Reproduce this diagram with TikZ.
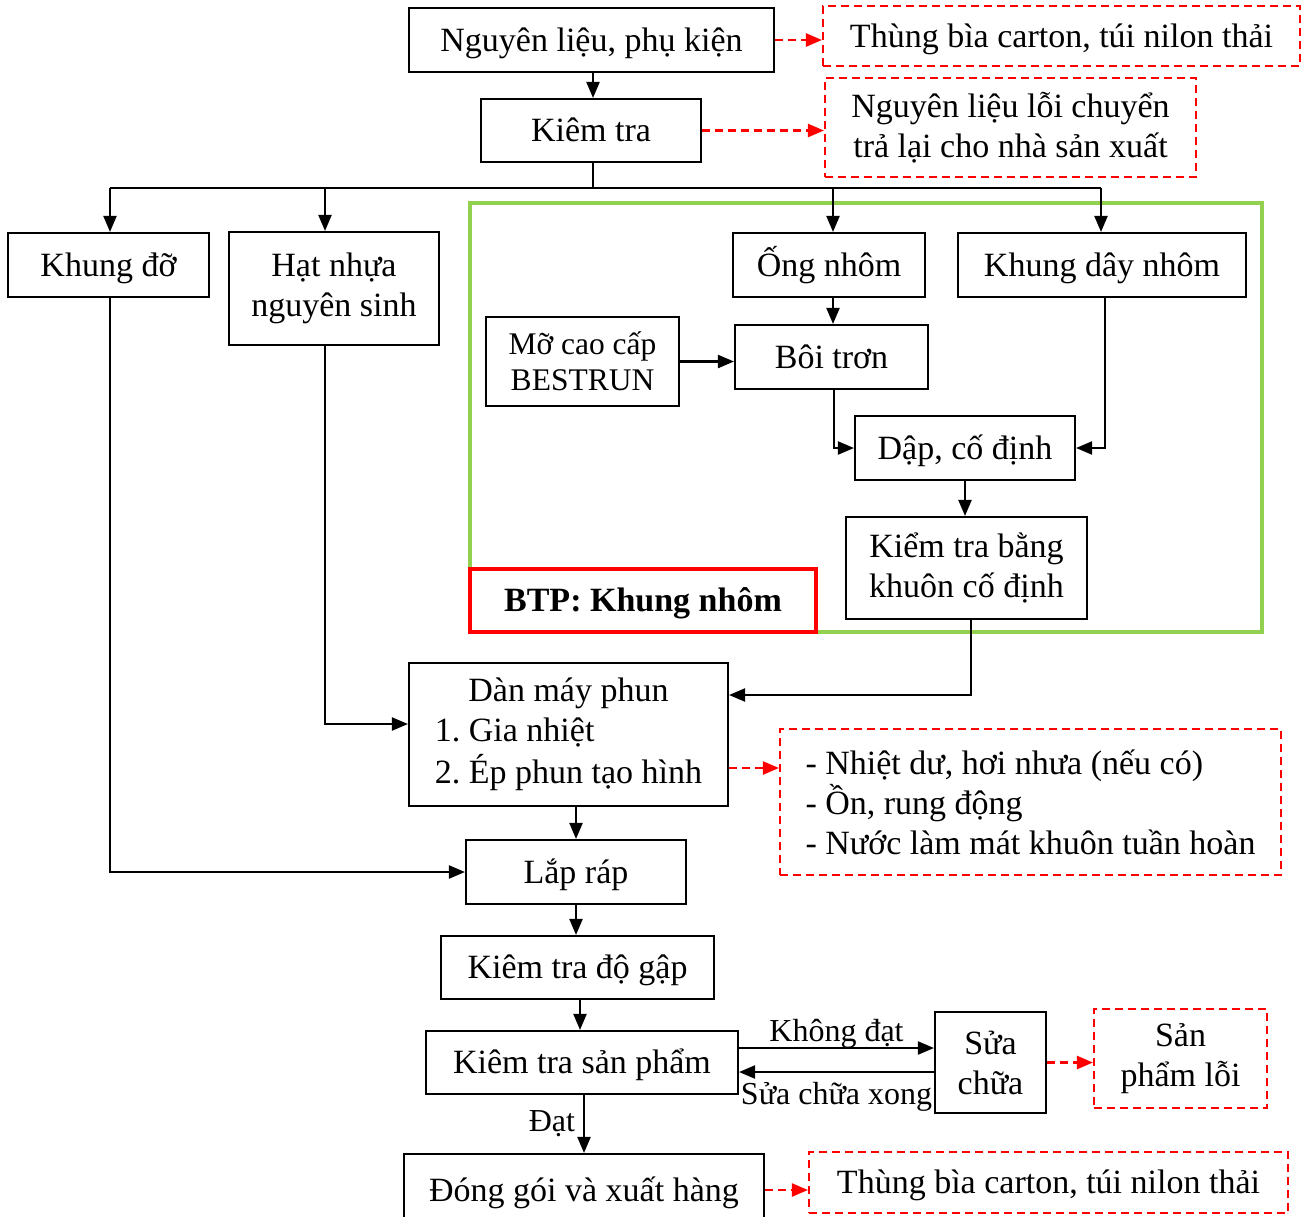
\documentclass[tikz,border=0pt]{standalone}
\usepackage{fontspec}
\setmainfont{Liberation Serif}
\usetikzlibrary{arrows.meta}
\definecolor{framegreen}{HTML}{92D050}
\frenchspacing
\begin{document}
\begin{tikzpicture}[x=1pt,y=-1pt,
  txt/.style={font=\fontsize{34}{40}\selectfont},
  box/.style={draw, line width=2.1pt, inner sep=0pt, align=center, txt},
  waste/.style={draw=red, line width=2.1pt, dash pattern=on 8pt off 5pt, inner sep=0pt, align=center, txt},
  one/.style={text height=30.4pt, text depth=8pt},
  arr/.style={line width=2.1pt, -{Triangle[length=16pt,width=13pt]}},
  warr/.style={red, line width=2.4pt, dash pattern=on 8pt off 5pt, -{Triangle[length=16pt,width=13pt]}},
  lab/.style={font=\fontsize{32}{36}\selectfont, inner sep=2pt}
]
\useasboundingbox (0,0) rectangle (1304,1216);

% frame of the aluminium sub-assembly
\draw[framegreen, line width=3.2pt] (470,203) rectangle (1262,632);

% process boxes
\node[box, one, minimum width=365, minimum height=64] (n1) at (591.5,40) {Nguyên liệu, phụ kiện};
\node[box, one, minimum width=220, minimum height=63] (kt) at (591,130.5) {Kiêm tra};
\node[box, one, minimum width=201, minimum height=64] (kd) at (108.5,265) {Khung đỡ};
\node[box, minimum width=210, minimum height=113] (hn) at (334,288.5) {Hạt nhựa\\nguyên sinh};
\node[box, one, minimum width=192, minimum height=64] (on) at (829,265) {Ống nhôm};
\node[box, one, minimum width=288, minimum height=64] (kdn) at (1102,265) {Khung dây nhôm};
\node[box, minimum width=193, minimum height=89, font=\fontsize{31.5}{36}\selectfont] (mo) at (582.5,361.5) {Mỡ cao cấp\\BESTRUN};
\node[box, one, minimum width=193, minimum height=64] (bt) at (831.5,357) {Bôi trơn};
\node[box, one, minimum width=220, minimum height=64] (dap) at (965,448) {Dập, cố định};
\node[box, minimum width=241, minimum height=102] (ktb) at (966.5,568) {Kiểm tra bằng\\khuôn cố định};
\node[draw=red, line width=3.4pt, inner sep=0pt, minimum width=346, minimum height=63, one, txt, font=\fontsize{34}{40}\selectfont\bfseries] (btp) at (643,600.5) {BTP: Khung nhôm};
\node[box, minimum width=319, minimum height=143] (dan) at (568.5,734.5)
  {\begin{tabular}{@{}l@{}}\multicolumn{1}{@{}c@{}}{Dàn máy phun}\\1. Gia nhiệt\\2. Ép phun tạo hình\end{tabular}};
\node[box, one, minimum width=220, minimum height=64] (lr) at (576,872) {Lắp ráp};
\node[box, one, minimum width=273, minimum height=63] (ktg) at (577.5,967.5) {Kiêm tra độ gập};
\node[box, one, minimum width=312, minimum height=63] (ktsp) at (582,1062.5) {Kiêm tra sản phẩm};
\node[box, minimum width=111, minimum height=101] (sc) at (990.5,1062.5) {Sửa\\chữa};
\node[box, one, minimum width=360, minimum height=72] (dg) at (584,1190) {Đóng gói và xuất hàng};

% waste outputs
\node[waste, one, minimum width=477, minimum height=60] (w1) at (1061.5,36) {Thùng bìa carton, túi nilon thải};
\node[waste, minimum width=371, minimum height=99] (w2) at (1010.5,127.5) {Nguyên liệu lỗi chuyển\\trả lại cho nhà sản xuất};
\node[waste, minimum width=501, minimum height=146, align=left] (w3) at (1030.5,802)
  {- Nhiệt dư, hơi nhưa (nếu có)\\- Ồn, rung động\\- Nước làm mát khuôn tuần hoàn};
\node[waste, minimum width=173, minimum height=99] (spl) at (1180.5,1058.5) {Sản\\phẩm lỗi};
\node[waste, one, minimum width=479, minimum height=61] (w4) at (1048.5,1182.5) {Thùng bìa carton, túi nilon thải};

% routing points
\coordinate (bus) at (593,188);
\coordinate (b1) at (110,188);
\coordinate (b2) at (325,188);
\coordinate (b3) at (833,188);
\coordinate (b4) at (1101,188);
\coordinate (c1) at (971,695);
\coordinate (c2) at (325,724);
\coordinate (c3) at (0,768);
\coordinate (c4) at (0,1048);
\coordinate (c5) at (0,1072);

% main flow
\draw[arr] (n1.south -| bus) -- (kt.north -| bus);
\draw[line width=2.1pt] (kt.south -| bus) -- (bus);
\draw[line width=2.1pt] (b1) -- (b4);
\draw[arr] (b1) -- (b1 |- kd.north);
\draw[arr] (b2) -- (b2 |- hn.north);
\draw[arr] (b3) -- (b3 |- on.north);
\draw[arr] (b4) -- (b4 |- kdn.north);

\draw[arr] (b3 |- on.south) -- (b3 |- bt.north);
\draw[arr] (mo.east) -- (mo.east -| bt.west);
\draw[arr] (bt.south -| 834,0) |- (dap.west);
\draw[arr] (kdn.south -| 1105,0) |- (dap.east);
\draw[arr] (dap.south) -- (dap.south |- ktb.north);
\draw[arr] (ktb.south -| c1) -- (c1) -- (c1 -| dan.east);
\draw[arr] (hn.south -| c2) -- (c2) -- (c2 -| dan.west);
\draw[arr] (kd.south -| b1) |- (lr.west);
\draw[arr] (lr.north |- dan.south) -- (lr.north);
\draw[arr] (lr.south) -- (lr.south |- ktg.north);
\draw[arr] (ktg.south -| 580,0) -- (ktsp.north -| 580,0);
\draw[arr] (c4 -| ktsp.east) -- node[lab, above, yshift=-3pt] (kd1) {Không đạt} (c4 -| sc.west);
\draw[arr] (c5 -| sc.west) -- node[lab, below, yshift=-7pt] (kd2) {Sửa chữa xong} (c5 -| ktsp.east);
\draw[arr] (ktsp.south -| dg.north) -- node[lab, left, xshift=-6pt] (kd3) {Đạt} (dg.north);

% waste flows
\draw[warr] (n1.east) -- (n1.east -| w1.west);
\draw[warr] (kt.east) -- (kt.east -| w2.west);
\draw[warr] (c3 -| dan.east) -- (c3 -| w3.west);
\draw[warr] (sc.east) -- (sc.east -| spl.west);
\draw[warr] (dg.east) -- (dg.east -| w4.west);
\end{tikzpicture}
\end{document}
